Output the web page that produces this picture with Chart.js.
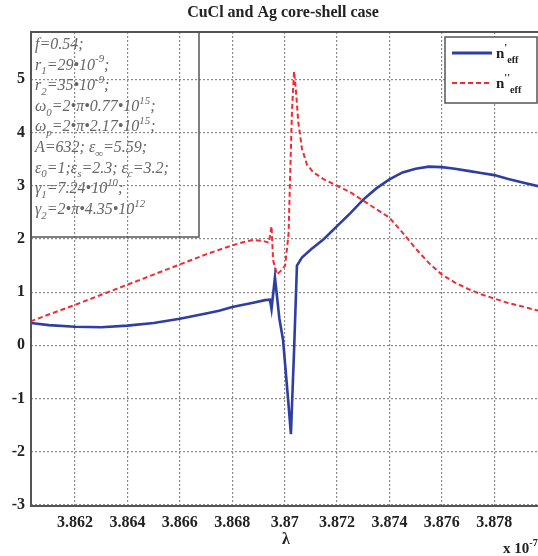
<!DOCTYPE html>
<html lang="en">
<head>
<meta charset="UTF-8">
<title>CuCl and Ag core-shell case</title>
<script src="https://cdn.jsdelivr.net/npm/chart.js"></script>
<style>
  html, body { margin: 0; padding: 0; background: #fff; }
  #wrap { width: 538px; height: 556px; }
</style>
</head>
<body>
<div id="wrap"><canvas id="chart" width="538" height="556"></canvas></div>
<script>
// wavelength (x 10^-7 m) and n' (blue, solid)
var lambdaReal = [3.8603, 3.861, 3.862, 3.863, 3.864, 3.865, 3.866, 3.867, 3.8675, 3.868,
  3.8688, 3.86925, 3.86944, 3.8695, 3.86963, 3.8698, 3.86994, 3.87013, 3.87024, 3.87036,
  3.87047, 3.87066, 3.871, 3.8715, 3.872, 3.8725, 3.873, 3.8735, 3.874, 3.8745,
  3.875, 3.8755, 3.876, 3.8765, 3.877, 3.8775, 3.878, 3.8785, 3.879, 3.8797];
var nReal = [0.42, 0.38, 0.35, 0.34, 0.37, 0.42, 0.5, 0.6, 0.65, 0.72,
  0.8, 0.85, 0.86, 0.68, 1.28, 0.5, 0.1, -1.0, -1.67, -0.1,
  1.5, 1.65, 1.8, 2.0, 2.24, 2.48, 2.74, 2.95, 3.12, 3.25,
  3.32, 3.36, 3.35, 3.32, 3.28, 3.24, 3.2, 3.13, 3.07, 2.99];

// wavelength and n'' (red, dashed)
var lambdaImag = [3.8603, 3.861, 3.862, 3.863, 3.864, 3.865, 3.866, 3.867, 3.868, 3.8685,
  3.8688, 3.8692, 3.8694, 3.8695, 3.86956, 3.86971, 3.86985, 3.87002, 3.87015, 3.8702,
  3.87028, 3.87036, 3.87043, 3.87052, 3.87066, 3.87085, 3.8711, 3.8715, 3.872, 3.8725,
  3.873, 3.8735, 3.874, 3.8745, 3.875, 3.8755, 3.876, 3.8765, 3.877, 3.8775,
  3.878, 3.8785, 3.879, 3.8797];
var nImag = [0.45, 0.58, 0.76, 0.95, 1.14, 1.33, 1.52, 1.71, 1.88, 1.95,
  1.98, 1.96, 1.93, 2.24, 1.6, 1.33, 1.4, 1.5, 2.1, 3.0,
  4.4, 5.15, 4.8, 4.2, 3.7, 3.4, 3.25, 3.12, 3.0, 2.88,
  2.72, 2.56, 2.4, 2.12, 1.82, 1.55, 1.33, 1.18, 1.06, 0.96,
  0.88, 0.8, 0.74, 0.65];

var xTicks = [3.862, 3.864, 3.866, 3.868, 3.870, 3.872, 3.874, 3.876, 3.878];
var xTickLabels = ['3.862', '3.864', '3.866', '3.868', '3.87', '3.872', '3.874', '3.876', '3.878'];
var yTicks = [-3, -2, -1, 0, 1, 2, 3, 4, 5];

var seriesNames = [[['n', 'n'], ["'", 'sup'], ['eff', 'sub']], [['n', 'n'], ["''", 'sup'], ['eff', 'sub']]];

// parameter box, each line is a list of [text, n|sub|sup]
var paramLines = [
  [['f=0.54;', 'n']],
  [['r', 'n'], ['1', 'sub'], ['=29•10', 'n'], ['-9', 'sup'], [';', 'n']],
  [['r', 'n'], ['2', 'sub'], ['=35•10', 'n'], ['-9', 'sup'], [';', 'n']],
  [['ω', 'n'], ['0', 'sub'], ['=2•π•0.77•10', 'n'], ['15', 'sup'], [';', 'n']],
  [['ω', 'n'], ['p', 'sub'], ['=2•π•2.17•10', 'n'], ['15', 'sup'], [';', 'n']],
  [['A=632; ε', 'n'], ['∞', 'sub'], ['=5.59;', 'n']],
  [['ε', 'n'], ['0', 'sub'], ['=1;ε', 'n'], ['s', 'sub'], ['=2.3; ε', 'n'], ['c', 'sub'], ['=3.2;', 'n']],
  [['γ', 'n'], ['1', 'sub'], ['=7.24•10', 'n'], ['10', 'sup'], [';', 'n']],
  [['γ', 'n'], ['2', 'sub'], ['=2•π•4.35•10', 'n'], ['12', 'sup']]
];

var blue = '#2f3ea3';
var red = '#ef2b36';
var serif = '"Liberation Serif", "DejaVu Serif", serif';

function toPoints(xs, ys) {
  return xs.map(function (x, i) { return { x: x, y: ys[i] }; });
}

// writes text with sub/superscripts, returns the end x
function drawRich(ctx, x, y, parts, size, weight, style) {
  ctx.textBaseline = 'alphabetic';
  ctx.textAlign = 'left';
  parts.forEach(function (p) {
    var s = size, dy = 0;
    if (p[1] === 'sub') { s = size * 0.68; dy = size * 0.3; }
    if (p[1] === 'sup') { s = size * 0.68; dy = -size * 0.45; }
    ctx.font = style + ' ' + weight + ' ' + s + 'px ' + serif;
    ctx.fillText(p[0], x, y + dy);
    x += ctx.measureText(p[0]).width;
  });
  return x;
}

var decorations = {
  id: 'decorations',
  beforeDraw: function (chart) {
    var ctx = chart.ctx;
    ctx.save();
    ctx.fillStyle = '#fff';
    ctx.fillRect(0, 0, chart.width, chart.height);
    ctx.restore();
  },
  afterDraw: function (chart) {
    var ctx = chart.ctx, a = chart.chartArea;
    ctx.save();

    // axes box
    ctx.strokeStyle = '#555';
    ctx.lineWidth = 2;
    ctx.beginPath();
    ctx.moveTo(a.right, a.top);
    ctx.lineTo(a.left, a.top);
    ctx.lineTo(a.left, a.bottom);
    ctx.lineTo(a.right, a.bottom);
    ctx.stroke();

    // title
    ctx.fillStyle = '#222';
    ctx.font = 'bold 16px ' + serif;
    ctx.textAlign = 'center';
    ctx.textBaseline = 'middle';
    ctx.fillText('CuCl and Ag core-shell case', 283, 13);

    // axis label and exponent
    ctx.font = 'bold 16px ' + serif;
    ctx.fillText('λ', 286, 540);
    drawRich(ctx, 503, 553, [['x 10', 'n'], ['-7', 'sup']], 15, 'bold', 'normal');

    // parameter box
    ctx.strokeStyle = '#555';
    ctx.lineWidth = 1.5;
    ctx.strokeRect(a.left, a.top, 168, 205);
    ctx.fillStyle = '#666';
    paramLines.forEach(function (line, i) {
      drawRich(ctx, 35, 49 + i * 20.6, line, 16, 'normal', 'italic');
    });

    // legend
    ctx.fillStyle = '#fff';
    ctx.fillRect(445, 37, 92, 66);
    ctx.strokeStyle = '#555';
    ctx.lineWidth = 1.5;
    ctx.strokeRect(445, 37, 92, 66);
    var rows = [{ y: 53, color: blue, dash: [] }, { y: 83, color: red, dash: [5, 3] }];
    rows.forEach(function (r, i) {
      ctx.strokeStyle = r.color;
      ctx.lineWidth = r.dash.length ? 2 : 3;
      ctx.setLineDash(r.dash);
      ctx.beginPath();
      ctx.moveTo(452, r.y);
      ctx.lineTo(492, r.y);
      ctx.stroke();
      ctx.setLineDash([]);
      ctx.fillStyle = '#222';
      drawRich(ctx, 496, r.y + 5, seriesNames[i], 15, 'bold', 'normal');
    });
    ctx.restore();
  }
};

var gridStyle = { color: '#8a8a8a', lineWidth: 1.2, tickLength: 0, drawTicks: false };

new Chart(document.getElementById('chart').getContext('2d'), {
  type: 'line',
  data: {
    datasets: [{
      label: "n'eff",
      data: toPoints(lambdaReal, nReal),
      borderColor: blue,
      borderWidth: 2.6,
      pointRadius: 0,
      tension: 0
    }, {
      label: "n''eff",
      data: toPoints(lambdaImag, nImag),
      borderColor: red,
      borderWidth: 2,
      borderDash: [5, 3],
      pointRadius: 0,
      tension: 0
    }]
  },
  options: {
    responsive: false,
    animation: false,
    layout: { padding: { top: 32, right: 0, left: 0, bottom: 0 } },
    plugins: { legend: { display: false }, title: { display: false }, tooltip: { enabled: false } },
    scales: {
      x: {
        type: 'linear',
        min: 3.86032,
        max: 3.87967,
        afterBuildTicks: function (scale) { scale.ticks = xTicks.map(function (v) { return { value: v }; }); },
        afterFit: function (scale) { scale.height = 50; },
        grid: gridStyle,
        border: { display: false, dash: [2, 2] },
        ticks: {
          padding: 7,
          color: '#222',
          font: { family: serif, weight: 'bold', size: 16 },
          callback: function (v) { var i = xTicks.indexOf(v); return i >= 0 ? xTickLabels[i] : ''; }
        }
      },
      y: {
        min: -3.02,
        max: 5.89,
        afterBuildTicks: function (scale) { scale.ticks = yTicks.map(function (v) { return { value: v }; }); },
        afterFit: function (scale) { scale.width = 31; },
        grid: gridStyle,
        border: { display: false, dash: [2, 2] },
        ticks: {
          padding: 6,
          color: '#222',
          font: { family: serif, weight: 'bold', size: 16 },
          callback: function (v) { return String(v); }
        }
      }
    }
  },
  plugins: [decorations]
});
</script>
</body>
</html>
